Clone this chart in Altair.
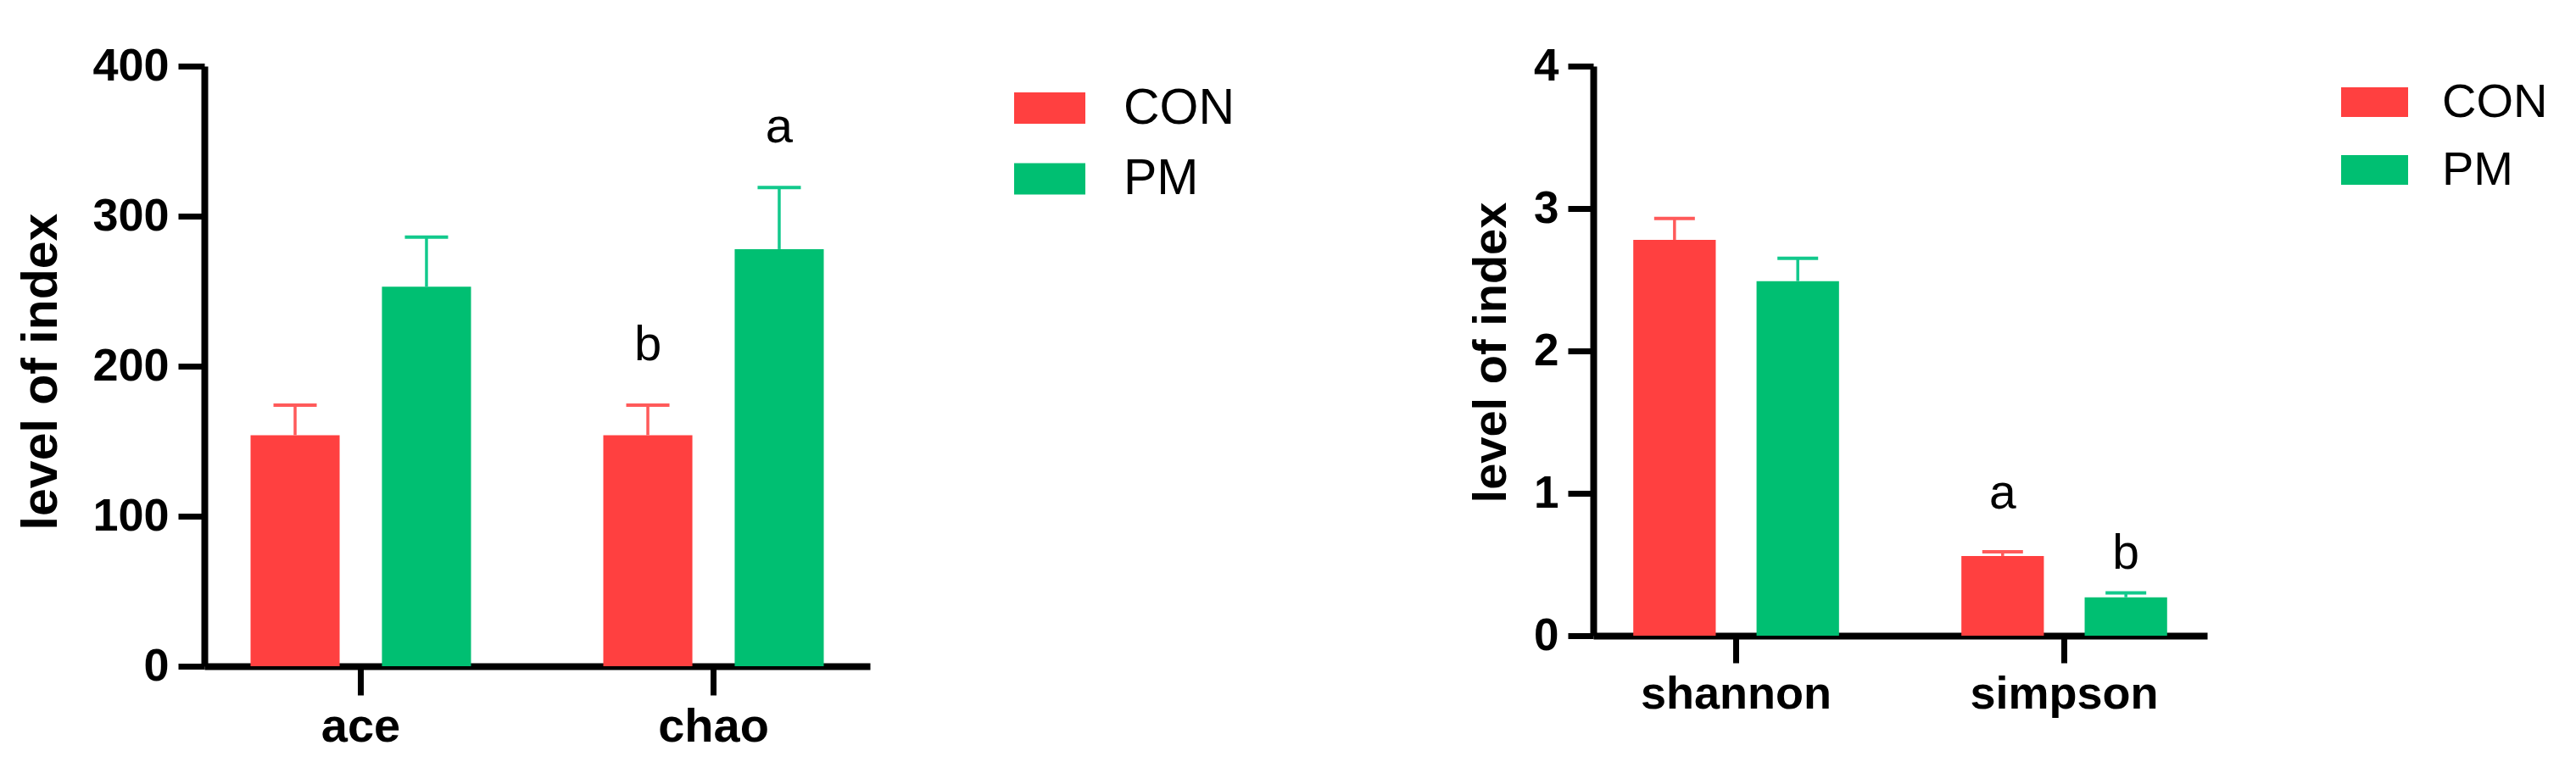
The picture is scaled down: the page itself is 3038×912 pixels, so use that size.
import altair as alt
import pandas as pd

groups = ["CON", "PM"]
bar_colors = ["#FF4040", "#00BF72"]
err_colors = ["#FF5A5A", "#12C98C"]

# left panel
left_cats = ["ace", "chao"]
left_con = [154, 154]
left_pm = [253, 278]
left_con_sd = [20, 20]
left_pm_sd = [33, 41]
left_letter_cat = ["chao", "chao"]
left_letter_group = ["CON", "PM"]
left_letter_text = ["b", "a"]
left_letter_y = [204, 349]
left_ticks = [0, 100, 200, 300, 400]

# right panel
right_cats = ["shannon", "simpson"]
right_con = [2.78, 0.56]
right_pm = [2.49, 0.27]
right_con_sd = [0.15, 0.03]
right_pm_sd = [0.16, 0.03]
right_letter_cat = ["simpson", "simpson"]
right_letter_group = ["CON", "PM"]
right_letter_text = ["a", "b"]
right_letter_y = [0.89, 0.47]
right_ticks = [0, 1, 2, 3, 4]

FONT = "Liberation Sans"


def panel(cats, con, pm, con_sd, pm_sd, lcat, lgrp, ltxt, ly, ticks,
          w, h, pin, pout, subpin, tick_fs, xlab_fs, title_fs, title_x, title_dy,
          ytick, xtick, cap, leg_x, leg_y, leg_w, leg_ratio, leg_fs, leg_row, leg_off,
          letter_fs):
    df = pd.DataFrame({
        "cat": cats + cats,
        "group": ["CON"] * len(cats) + ["PM"] * len(cats),
        "value": con + pm,
        "sd": con_sd + pm_sd,
    })
    df["upper"] = df["value"] + df["sd"]
    ldf = pd.DataFrame({"cat": lcat, "group": lgrp, "text": ltxt, "y": ly})

    x = alt.X("cat:N", sort=cats,
              scale=alt.Scale(domain=cats, paddingInner=pin, paddingOuter=pout),
              axis=alt.Axis(title=None, labelAngle=0, labelFont=FONT, labelFontSize=xlab_fs,
                            labelFontWeight="bold", labelColor="black", labelPadding=10,
                            labelLimit=1000,
                            domainColor="black", domainWidth=8, tickColor="black",
                            tickWidth=7, tickSize=xtick, grid=False))
    xo = alt.XOffset("group:N", sort=groups,
                     scale=alt.Scale(domain=groups, paddingInner=subpin, paddingOuter=0))
    yscale = alt.Scale(domain=[ticks[0], ticks[-1]], nice=False)
    yaxis = alt.Axis(title="level of index", values=ticks, format="d", labelFont=FONT,
                     labelFontSize=tick_fs, labelFontWeight="bold", labelColor="black",
                     labelPadding=11, domainColor="black", domainWidth=8, tickColor="black",
                     tickWidth=7, tickSize=ytick, grid=False,
                     titleFont=FONT, titleFontSize=title_fs, titleFontWeight="bold",
                     titleColor="black", titleAngle=270, titleX=title_x,
                     titleY=h / 2 + title_dy, titleAlign="center",
                     titleBaseline="alphabetic", titleLimit=2000)
    path = "M-1,-%.3fH1V%.3fH-1Z" % (leg_ratio, leg_ratio)
    color = alt.Color("group:N", sort=groups,
                      scale=alt.Scale(domain=groups, range=bar_colors),
                      legend=alt.Legend(title=None, orient="none", legendX=leg_x, legendY=leg_y,
                                        symbolType=path, symbolSize=leg_w * leg_w,
                                        symbolStrokeWidth=0, labelFont=FONT,
                                        labelFontSize=leg_fs, labelColor="black",
                                        labelLimit=1000,
                                        rowPadding=leg_row, labelOffset=leg_off, padding=0))
    base = alt.Chart(df)
    bars = base.mark_bar().encode(
        x=x, xOffset=xo,
        y=alt.Y("value:Q", scale=yscale, axis=yaxis),
        color=color,
    )
    stems = base.mark_rule(strokeWidth=3.5).encode(
        x=x, xOffset=xo,
        y=alt.Y("value:Q", scale=yscale),
        y2="upper:Q",
        stroke=alt.Stroke("group:N", scale=alt.Scale(domain=groups, range=err_colors), legend=None),
    )
    caps = base.mark_tick(size=cap, thickness=4).encode(
        x=x, xOffset=xo,
        y=alt.Y("upper:Q", scale=yscale),
        fill=alt.Fill("group:N", scale=alt.Scale(domain=groups, range=err_colors), legend=None),
        opacity=alt.value(1),
    )
    letters = alt.Chart(ldf).mark_text(font=FONT, fontSize=letter_fs, color="black",
                                       baseline="alphabetic", align="center").encode(
        x=x, xOffset=xo,
        y=alt.Y("y:Q", scale=yscale),
        text="text:N",
    )
    return alt.layer(bars, stems, caps, letters).properties(width=w, height=h)


left = panel(left_cats, left_con, left_pm, left_con_sd, left_pm_sd,
             left_letter_cat, left_letter_group, left_letter_text, left_letter_y, left_ticks,
             w=785, h=708, pin=0.375, pout=0.131, subpin=0.322,
             tick_fs=54, xlab_fs=56, title_fs=59, title_x=-175, title_dy=6,
             ytick=31, xtick=34, cap=51,
             leg_x=955, leg_y=7.5, leg_w=84, leg_ratio=0.44, leg_fs=59, leg_row=11.5, leg_off=45,
             letter_fs=58)

right = panel(right_cats, right_con, right_pm, right_con_sd, right_pm_sd,
              right_letter_cat, right_letter_group, right_letter_text, right_letter_y, right_ticks,
              w=724, h=672, pin=0.373, pout=0.122, subpin=0.331,
              tick_fs=53, xlab_fs=54, title_fs=56, title_x=-104, title_dy=1.5,
              ytick=30, xtick=32, cap=48,
              leg_x=882, leg_y=3, leg_w=79, leg_ratio=0.443, leg_fs=56, leg_row=12, leg_off=40,
              letter_fs=57)

chart = alt.hconcat(left, right, spacing=853, bounds="flush").resolve_scale(
    x="independent", y="independent", color="independent",
    fill="independent", stroke="independent", xOffset="independent"
).resolve_legend(color="independent").properties(
    padding={"left": 11, "top": 43, "right": 0, "bottom": 0},
    background="white",
).configure_view(strokeWidth=0, stroke="transparent")

chart.save("out.html", embed_options={"renderer": "svg", "actions": False})
